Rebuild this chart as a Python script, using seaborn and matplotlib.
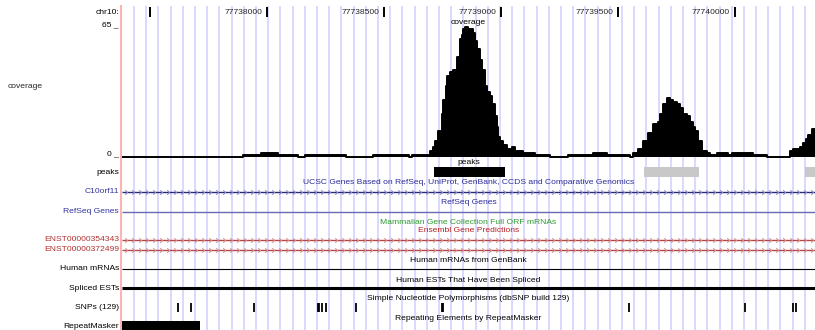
import numpy as np
import matplotlib
matplotlib.use("Agg")
import matplotlib.pyplot as plt
import seaborn as sns

# ruler
tick_positions = [77737500, 77738000, 77738500, 77739000, 77739500, 77740000]
tick_labels = ["", "77738000", "77738500", "77739000", "77739500", "77740000"]
view_start = 77737380
view_end = 77740342

# coverage wiggle, each value holds until the next start
cov_start = [77737380, 77737897, 77737974, 77738047, 77738132, 77738162, 77738337, 77738453,
             77738607, 77738620, 77738697, 77738711, 77738718, 77738732, 77738747, 77738753,
             77738765, 77738771, 77738782, 77738796, 77738811, 77738825, 77738832, 77738839,
             77738846, 77738860, 77738875, 77738882, 77738889, 77738896, 77738910, 77738918,
             77738932, 77738939, 77738953, 77738960, 77738974, 77738982, 77738988, 77738996,
             77739010, 77739024, 77739046, 77739060, 77739074, 77739095, 77739145, 77739209,
             77739286, 77739393, 77739453, 77739551, 77739565, 77739587, 77739608, 77739630,
             77739651, 77739672, 77739679, 77739694, 77739708, 77739722, 77739736, 77739751,
             77739765, 77739779, 77739794, 77739808, 77739822, 77739829, 77739843, 77739857,
             77739879, 77739893, 77739923, 77739970, 77739987, 77740077, 77740137, 77740235,
             77740248, 77740278, 77740292, 77740303, 77740313, 77740328]
cov_value = [0, 1, 2, 1, 0, 1, 0, 1,
             0, 1, 3, 5, 8, 13, 21, 28,
             35, 40, 42, 43, 49, 58, 60, 63,
             64, 63, 63, 61, 57, 53, 48, 43,
             35, 32, 30, 26, 20, 15, 10, 8,
             6, 4, 5, 3, 3, 2, 1, 0,
             1, 2, 1, 0, 2, 4, 8, 12,
             16, 17, 21, 26, 29, 28, 27, 26,
             24, 21, 20, 17, 15, 13, 8, 3,
             2, 1, 2, 1, 2, 1, 0, 3,
             4, 5, 7, 9, 11, 14]

# peaks track
peak_starts = [77738714, 77739611, 77740299]
peak_ends = [77739017, 77739846, 77740420]
peak_scores = [1000, 300, 300]

# genes crossing the whole window
gene_names = ["C10orf11", "RefSeq Genes", "ENST00000354343", "ENST00000372499"]

# SNPs (dbSNP 129)
snp_positions = [77737618, 77737674, 77737944, 77738216, 77738224, 77738233, 77738252,
                 77738379, 77738748, 77738754, 77739548, 77740043, 77740248, 77740259]

# RepeatMasker
repeat_starts = [77737200]
repeat_ends = [77737714]

W, H = 815, 330
px_per_bp = 117 / 500

sns.set_theme(style="white")
plt.rcParams['font.family'] = ['Liberation Sans', 'DejaVu Sans']
FS = 6.1

fig = plt.figure(figsize=(W / 100, H / 100), dpi=100)
fig.patch.set_facecolor("white")

# background axes: x in bp, y in pixel rows
ax = fig.add_axes([122 / W, 0, (W - 122) / W, 1])
ax.set_xlim(view_start, view_end)
ax.set_ylim(H, 0)
ax.axis("off")

# blue guidelines and pink left border
guide_bp = np.arange(view_start + 12 / px_per_bp, view_end, 12.2 / px_per_bp)
ax.vlines(guide_bp, 6, H, color="#d9d9ff", lw=1.4, zorder=0)
ax.vlines([view_start - 1 / px_per_bp], 5, H, color="#ffb4b4", lw=1.5, clip_on=False, zorder=1)

# ruler
ax.vlines(tick_positions, 7, 17, color="black", lw=1.4)
for pos, lab in zip(tick_positions, tick_labels):
    ax.text(pos - 5 / px_per_bp, 13, lab, ha="right", va="center", fontsize=FS)

yt = ax.get_yaxis_transform()

def left_label(y, text, color="black"):
    fig.text(119 / W, 1 - y / H, text, ha="right", va="center", fontsize=FS, color=color)

def center_title(y, text, color="black"):
    ax.text(0.5, y, text, transform=yt, ha="center", va="center", fontsize=FS, color=color)

left_label(13, "chr10:")
left_label(24.5, "65 _")
left_label(154, "0 _")
fig.text(8 / W, 1 - 86 / H, "coverage", ha="left", va="center", fontsize=FS)
center_title(23, "coverage")

# peaks
center_title(163, "peaks")
left_label(172, "peaks")
peak_colors = ["black" if s > 500 else "#c8c8c8" for s in peak_scores]
ax.barh([172] * len(peak_starts), np.array(peak_ends) - np.array(peak_starts),
        left=peak_starts, height=10, color=peak_colors, lw=0)

# gene tracks
chev = [(-1, 1), (0, 0), (-1, -1)]
chev_bp = np.arange(view_start + 5 / px_per_bp, view_end, 7 / px_per_bp)

def gene_line(y, line_color, chev_color=None, lw=1.0):
    ax.hlines(y, view_start, view_end, color=line_color, lw=lw, zorder=3)
    if chev_color:
        ax.plot(chev_bp, [y] * len(chev_bp), ls="", marker=chev, ms=3.2, mew=0.8,
                mfc="none", mec=chev_color, zorder=3)

center_title(183, "UCSC Genes Based on RefSeq, UniProt, GenBank, CCDS and Comparative Genomics", "#2c2c98")
left_label(191.5, gene_names[0], "#3333a0")
gene_line(191.5, "#2a2a7a", "#8c8cc8")

center_title(202, "RefSeq Genes", "#2c2c98")
left_label(211.5, gene_names[1], "#3333a0")
gene_line(211.5, "#6a6ab4")

center_title(222, "Mammalian Gene Collection Full ORF mRNAs", "#2e9a2e")
center_title(231, "Ensembl Gene Predictions", "#b82020")
left_label(239.5, gene_names[2], "#b03030")
gene_line(239.5, "#b04848", "#d89090")
left_label(249.5, gene_names[3], "#b03030")
gene_line(249.5, "#b04848", "#d89090")

center_title(260, "Human mRNAs from GenBank")
left_label(268.5, "Human mRNAs")
ax.hlines(268.5, view_start, view_end, color="black", lw=0.8, zorder=3)

center_title(280, "Human ESTs That Have Been Spliced")
left_label(288, "Spliced ESTs")
ax.hlines(288, view_start, view_end, color="black", lw=2.2, zorder=3)

center_title(298.5, "Simple Nucleotide Polymorphisms (dbSNP build 129)")
left_label(307.5, "SNPs (129)")
ax.vlines(snp_positions, 303, 312, color="black", lw=1.3, zorder=3)

center_title(318, "Repeating Elements by RepeatMasker")
left_label(326.5, "RepeatMasker")
ax.barh([326] * len(repeat_starts), np.array(repeat_ends) - np.array(repeat_starts),
        left=repeat_starts, height=10, color="black", lw=0)

# coverage axes
ax_cov = fig.add_axes([122 / W, (H - 158) / H, (W - 122) / W, 133 / H])
ax_cov.set_xlim(view_start, view_end)
ax_cov.set_ylim(-0.5, 65)
ax_cov.patch.set_alpha(0)
ax_cov.axis("off")
xs = cov_start + [view_end]
ys = cov_value + [cov_value[-1]]
ax_cov.fill_between(xs, 0, ys, step="post", color="black", lw=0)
sns.lineplot(x=xs, y=ys, drawstyle="steps-post", color="black", lw=1.4,
             estimator=None, ax=ax_cov)

fig.savefig("out.png", dpi=100)
